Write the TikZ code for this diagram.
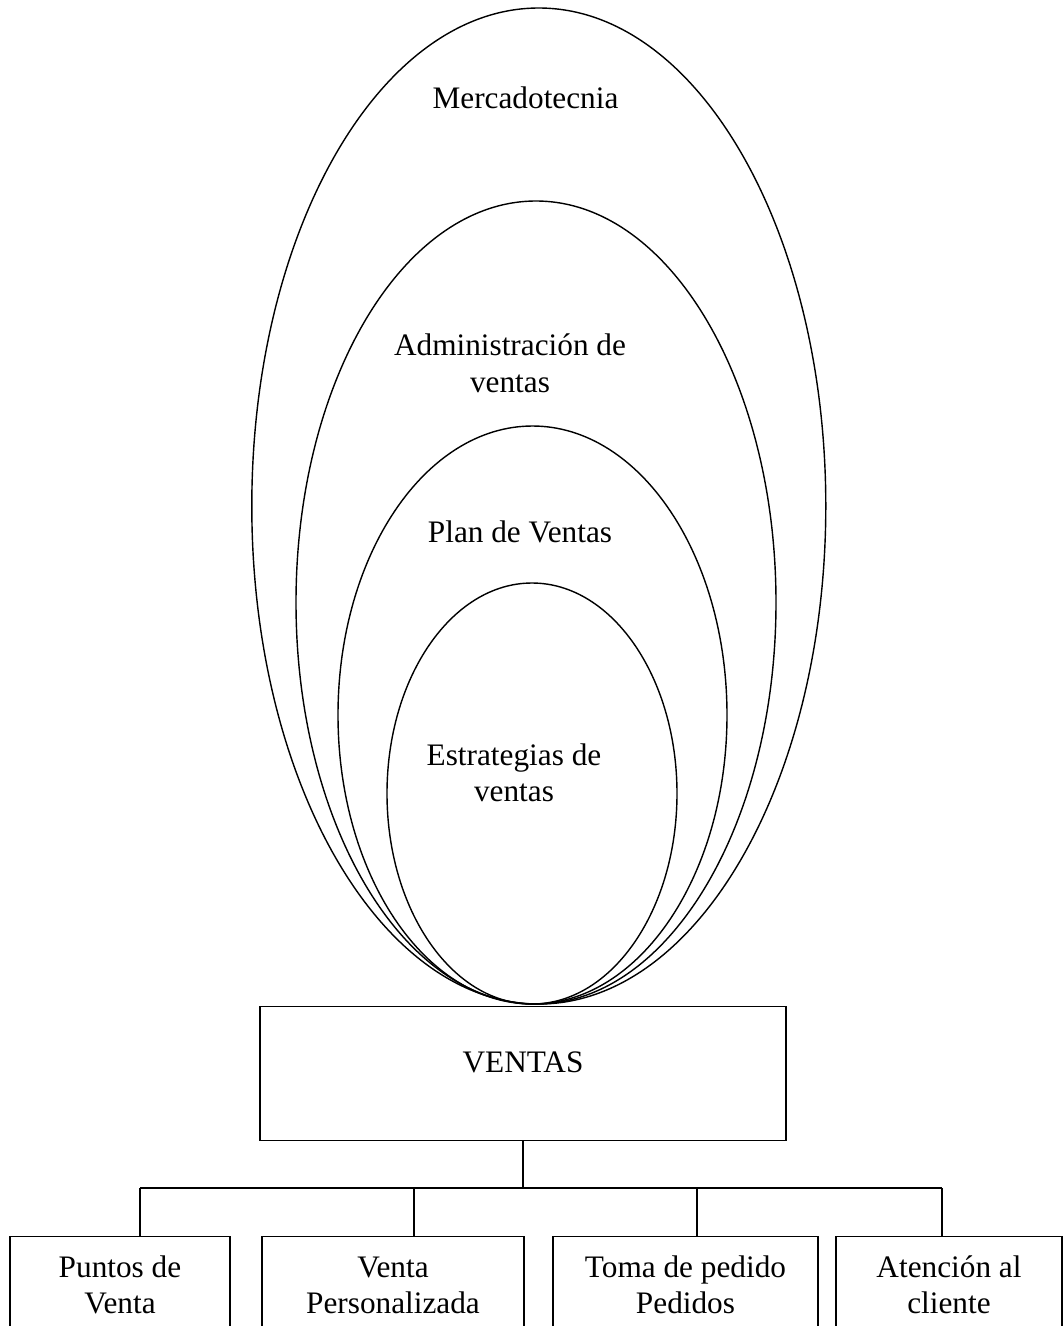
\documentclass[tikz,border=0pt]{standalone}
\usepackage{fontspec}
\setmainfont{Liberation Serif}
\tikzset{
	box/.style={draw, inner xsep=0pt, inner ysep=0pt, align=center, anchor=north},
	lbl/.style={align=center, anchor=base},
}
\begin{document}
\begin{tikzpicture}[x=0.2mm,y=-0.2mm,line width=0.8pt,font=\fontsize{17.8}{20.5}\selectfont]
			\useasboundingbox (0,0) rectangle (1064,1326);
			\clip (0,0) rectangle (1064,1326);
			
			\draw (538.8,506) ellipse [x radius=287, y radius=498];
			\draw (536,602.5) ellipse [x radius=240, y radius=401.5];
			\draw (532.5,715) ellipse [x radius=194.5, y radius=289];
			\draw (532,793.5) ellipse [x radius=145, y radius=210.5];
			
			% multi-line labels sit on the baseline of their last line
			\node[lbl] (merc) at (525.5,108) {Mercadotecnia};
			\node[lbl] (admin) at (510,392) {Administración de\\ventas};
			\node[lbl] (plan) at (520,542) {Plan de Ventas};
			\node[lbl] (estr) at (514,801.7) {Estrategias de\\ventas};
			
			\node[box, minimum width=10.52cm, text height=1.32cm, text depth=1.36cm] (ventas) at (523,1006) {VENTAS};
			
			\node[box, minimum width=4.4cm, text height=1.53cm, text depth=1.5cm] (puntos) at (120,1236) {Puntos de\\Venta};
			\node[box, minimum width=5.24cm, text height=1.53cm, text depth=1.5cm] (personal) at (393,1236) {Venta\\Personalizada};
			\node[box, minimum width=5.3cm, text height=1.53cm, text depth=1.5cm] (pedido) at (685.5,1236) {Toma de pedido\\Pedidos};
			\node[box, minimum width=4.52cm, text height=1.53cm, text depth=1.5cm] (atencion) at (949,1236) {Atención al\\cliente};
			
			\coordinate (d1) at (140,1188);
			\coordinate (d2) at (414,1188);
			\coordinate (d3) at (697,1188);
			\coordinate (d4) at (942,1188);
			
			\draw (ventas.south) -- (ventas.south |- d1);
			\draw (d1) -- (d4);
			\draw (d1) -- (d1 |- puntos.north);
			\draw (d2) -- (d2 |- personal.north);
			\draw (d3) -- (d3 |- pedido.north);
			\draw (d4) -- (d4 |- atencion.north);
		\end{tikzpicture}
\end{document}
